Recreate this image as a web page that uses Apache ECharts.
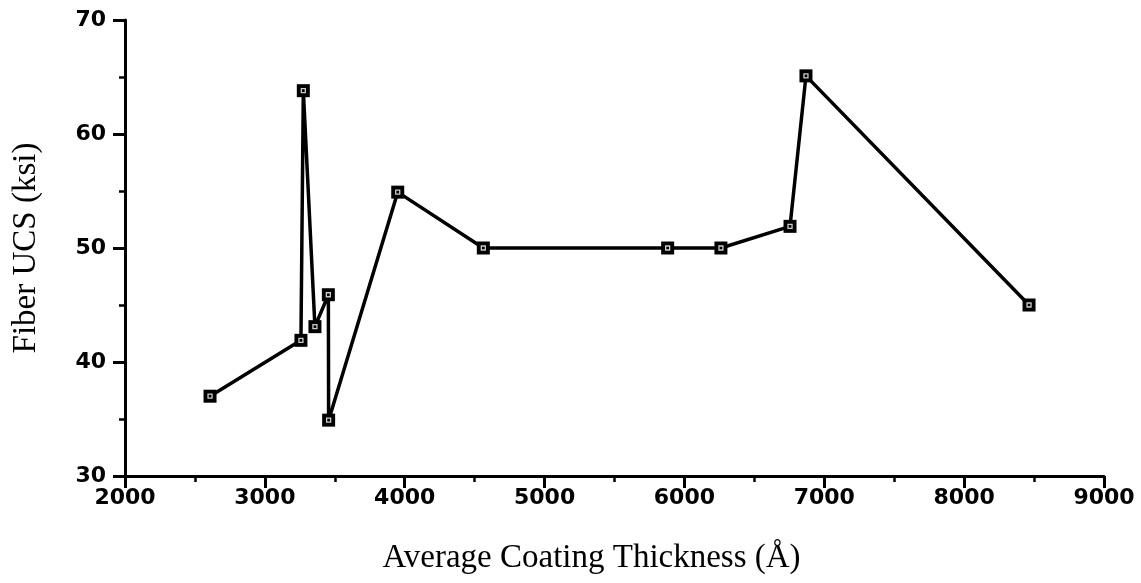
<!DOCTYPE html>
<html>
<head>
<meta charset="utf-8">
<script src="https://cdn.jsdelivr.net/npm/echarts@6/dist/echarts.min.js"></script>
<style>
html,body{margin:0;padding:0;background:#fff;}
#chart{width:1141px;height:583px;}
</style>
</head>
<body>
<div id="chart"></div>
<script>
// Data
const thickness = [2608, 3258, 3275, 3358, 3454, 3456, 3950, 4562, 5880, 6261, 6755, 6869, 8464];
const ucs       = [37.0, 41.9, 63.8, 43.1, 45.9, 34.9, 54.9, 50.0, 50.0, 50.0, 51.9, 65.1, 45.0];
const xTitle = 'Average Coating Thickness (Å)';
const yTitle = 'Fiber UCS (ksi)';

const points = thickness.map((x, i) => [x, ucs[i]]);

const chart = echarts.init(document.getElementById('chart'));
const labelStyle = {color: '#000', fontFamily: 'DejaVu Sans', fontWeight: 'bold', fontSize: 22,
  formatter: v => String(v)};
const axisCommon = {
  axisLine: {show: true, onZero: false, lineStyle: {color: '#000', width: 3}},
  axisTick: {show: true, inside: false, length: 12, lineStyle: {color: '#000', width: 3}},
  minorTick: {show: true, splitNumber: 2, length: 6, lineStyle: {color: '#000', width: 2.5}},
  splitLine: {show: false}
};
chart.setOption({
  backgroundColor: '#fff',
  animation: false,
  grid: {left: 125, right: 37, top: 20, bottom: 107},
  xAxis: Object.assign({}, axisCommon, {
    type: 'value', min: 2000, max: 9000, interval: 1000,
    axisLabel: Object.assign({}, labelStyle, {margin: 11}),
    name: xTitle, nameLocation: 'middle', nameGap: 66,
    nameTextStyle: {color: '#000', fontFamily: 'Liberation Serif', fontSize: 33, padding: [0, 46, 0, 0]}
  }),
  yAxis: Object.assign({}, axisCommon, {
    type: 'value', min: 30, max: 70, interval: 10,
    axisLabel: Object.assign({}, labelStyle, {margin: 19}),
    name: yTitle, nameLocation: 'middle', nameGap: 82,
    nameTextStyle: {color: '#000', fontFamily: 'Liberation Serif', fontSize: 33}
  }),
  series: [
    {
      type: 'line', data: points,
      lineStyle: {color: '#000', width: 3.5},
      symbol: 'rect', symbolSize: 13,
      itemStyle: {color: '#000', borderWidth: 0},
      z: 2
    },
    {
      type: 'scatter', data: points,
      symbol: 'rect', symbolSize: 4,
      itemStyle: {color: '#000', borderColor: '#fff', borderWidth: 1.3},
      z: 3, silent: true
    }
  ]
});
</script>
</body>
</html>
